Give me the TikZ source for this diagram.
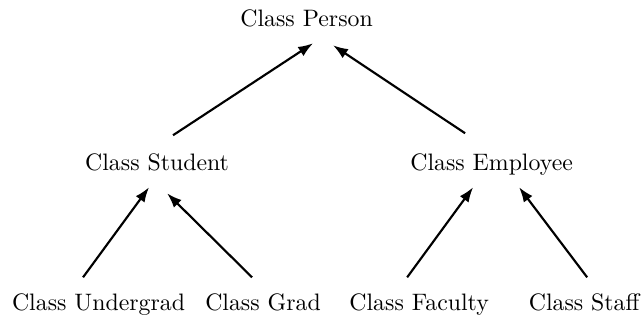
\documentclass[tikz,border=0pt]{standalone}
\usepackage{tikz}
\usetikzlibrary{arrows.meta}

\begin{document}
\begin{tikzpicture}[
  every node/.style={anchor=base,inner sep=0pt},
  isa/.style={line width=0.9pt,-{Latex[length=2.2mm,width=1.6mm]}}
]
\useasboundingbox (0,0) rectangle (9.48,4.73);

% the classes
\node (person)    at (4.527,4.342) {Class Person};
\node (student)   at (2.319,2.216) {Class Student};
\node (employee)  at (7.259,2.216) {Class Employee};
\node (undergrad) at (1.455,0.148) {Class Undergrad};
\node (grad)      at (3.884,0.148) {Class Grad};
\node (faculty)   at (6.189,0.148) {Class Faculty};
\node (staff)     at (8.626,0.148) {Class Staff};

% subclass arrows
\draw[isa] ([shift={(0.236,0.517)}]student.base)   -- ([shift={(0.096,-0.251)}]person.base);
\draw[isa] ([shift={(-0.391,0.546)}]employee.base) -- ([shift={(0.391,-0.281)}]person.base);
\draw[isa] ([shift={(-0.229,0.487)}]undergrad.base) -- ([shift={(-0.118,-0.251)}]student.base);
\draw[isa] ([shift={(-0.162,0.487)}]grad.base)      -- ([shift={(0.148,-0.340)}]student.base);
\draw[isa] ([shift={(-0.177,0.487)}]faculty.base)   -- ([shift={(-0.273,-0.251)}]employee.base);
\draw[isa] ([shift={(0.044,0.487)}]staff.base)      -- ([shift={(0.406,-0.251)}]employee.base);
\end{tikzpicture}
\end{document}
